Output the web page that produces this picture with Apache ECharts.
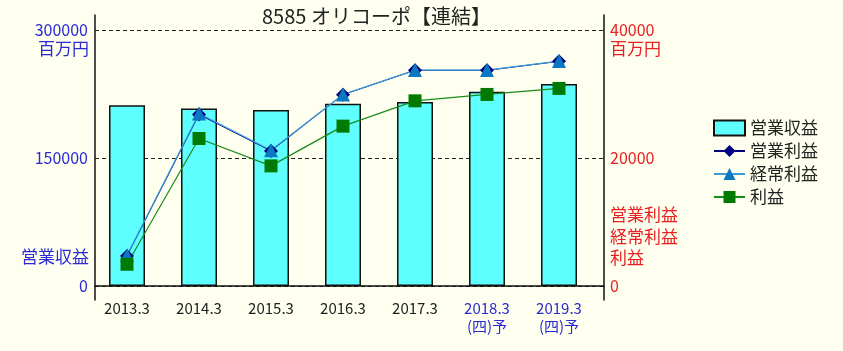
<!DOCTYPE html>
<html><head><meta charset="utf-8">
<script src="https://cdn.jsdelivr.net/npm/echarts@6/dist/echarts.min.js"></script>
<style>html,body{margin:0;padding:0;background:#FFFFF0;}#c{width:843px;height:351px;}</style>
</head><body><div id="c"></div>
<script>
const categories = ['2013.3','2014.3','2015.3','2016.3','2017.3','2018.3','2019.3'];
const forecastFlags = [false,false,false,false,false,true,true];
const revenue = [211700, 208100, 206200, 213500, 215500, 227600, 236700];
const operatingProfit = [4700, 26800, 21100, 29900, 33700, 33700, 35100];
const ordinaryProfit = [4800, 26960, 21220, 29930, 33740, 33740, 35140];
const netProfit = [3400, 23050, 18770, 24980, 28930, 29930, 30870];
const leftTicks = {min:0, max:300000, interval:150000};
const rightTicks = {min:0, max:40000, interval:20000};

const FONT = '"Noto Sans CJK JP", sans-serif';
const BLUE = '#2a2ad0';
const RED = '#e62020';
const BG = '#FFFFF0';
const plain = v => String(v);
const chart = echarts.init(document.getElementById('c'));
chart.setOption({
  backgroundColor: BG,
  animation: false,
  textStyle: {fontFamily: FONT},
  title: [
    {text: '8585 オリコーポ【連結】', left: 248, top: 5, backgroundColor: BG, padding: [1,10,1,14],
     textStyle: {fontSize: 20, fontWeight: 'normal', color: '#222', fontFamily: FONT}},
    {text: '百万円', right: 843-89, top: 40, padding: 0, textStyle: {fontSize: 17, fontWeight: 'normal', color: BLUE, fontFamily: FONT}},
    {text: '営業収益', right: 843-89, top: 248, padding: 0, textStyle: {fontSize: 17, fontWeight: 'normal', color: BLUE, fontFamily: FONT}},
    {text: '百万円', left: 610, top: 40, padding: 0, textStyle: {fontSize: 17, fontWeight: 'normal', color: RED, fontFamily: FONT}},
    {text: '営業利益\n経常利益\n利益', left: 610, top: 204, padding: 0, textStyle: {fontSize: 17, lineHeight: 21.5, fontWeight: 'normal', color: RED, fontFamily: FONT}}
  ],
  legend: {
    orient: 'vertical', left: 708, top: 114, itemWidth: 31, itemHeight: 15, itemGap: 5,
    textStyle: {fontSize: 17, color: '#222', fontFamily: FONT, lineHeight: 18},
    data: [{name: '営業収益', icon: 'rect'}, '営業利益', '経常利益', '利益']
  },
  grid: [
    {left: 95, right: 239, top: 15, bottom: 51},
    {left: 95, right: 239, top: 30, bottom: 65},
    {left: 91, right: 248, top: 30, bottom: 65}
  ],
  xAxis: [
    {gridIndex: 0, type: 'category', data: categories, show: false},
    {gridIndex: 1, type: 'category', data: categories, axisLine: {show: true, lineStyle: {color: '#111', width: 1.5}}, axisTick: {show: false}, axisLabel: {show: false}},
    {gridIndex: 2, type: 'category', data: categories, axisLine: {show: false}, axisTick: {show: false},
     axisLabel: {interval: 0, margin: 13, fontSize: 15, lineHeight: 18, fontFamily: FONT,
       formatter: function(v, i){ return forecastFlags[i] ? '{f|' + v + '}\n{f|(四)予}' : '{a|' + v + '}'; },
       rich: {a: {color: '#222', fontSize: 15, lineHeight: 18, fontFamily: FONT}, f: {color: BLUE, fontSize: 15, lineHeight: 18, fontFamily: FONT}}}
    }
  ],
  yAxis: [
    {gridIndex: 0, type: 'value', position: 'left', min: 0, max: 1, axisLine: {show: true, lineStyle: {color: '#111', width: 1.5}}, axisLabel: {show: false}, axisTick: {show: false}, splitLine: {show: false}},
    {gridIndex: 0, type: 'value', position: 'right', min: 0, max: 1, axisLine: {show: true, lineStyle: {color: '#111', width: 1.5}}, axisLabel: {show: false}, axisTick: {show: false}, splitLine: {show: false}},
    {gridIndex: 1, type: 'value', position: 'left', min: leftTicks.min, max: leftTicks.max, interval: leftTicks.interval,
     axisLine: {show: false}, axisTick: {show: false},
     axisLabel: {color: BLUE, fontSize: 16, margin: 7, fontFamily: FONT, formatter: plain},
     splitLine: {show: true, lineStyle: {color: '#222', type: [4,3], width: 1}}},
    {gridIndex: 1, type: 'value', position: 'right', min: rightTicks.min, max: rightTicks.max, interval: rightTicks.interval,
     axisLine: {show: false}, axisTick: {show: false},
     axisLabel: {color: RED, fontSize: 16, margin: 6, fontFamily: FONT, formatter: plain},
     splitLine: {show: false}},
    {gridIndex: 2, type: 'value', min: leftTicks.min, max: leftTicks.max, show: false},
    {gridIndex: 2, type: 'value', min: rightTicks.min, max: rightTicks.max, show: false}
  ],
  series: [
    {name: '営業収益', type: 'bar', xAxisIndex: 2, yAxisIndex: 4, data: revenue, barWidth: 36,
     itemStyle: {color: '#5FFFFF', borderColor: '#111', borderWidth: 1.5}},
    {name: '営業利益', type: 'line', xAxisIndex: 2, yAxisIndex: 5, data: operatingProfit, symbol: 'diamond', symbolSize: 14,
     itemStyle: {color: '#000080'}, lineStyle: {color: '#000080', width: 1}},
    {name: '経常利益', type: 'line', xAxisIndex: 2, yAxisIndex: 5, data: ordinaryProfit, symbol: 'triangle', symbolSize: 14,
     itemStyle: {color: '#0A78C0'}, lineStyle: {color: '#3A9AD6', width: 1.2}},
    {name: '利益', type: 'line', xAxisIndex: 2, yAxisIndex: 5, data: netProfit, symbol: 'rect', symbolSize: 13,
     itemStyle: {color: '#007A00'}, lineStyle: {color: '#1A8A1A', width: 1.2}}
  ]
});
</script></body></html>
